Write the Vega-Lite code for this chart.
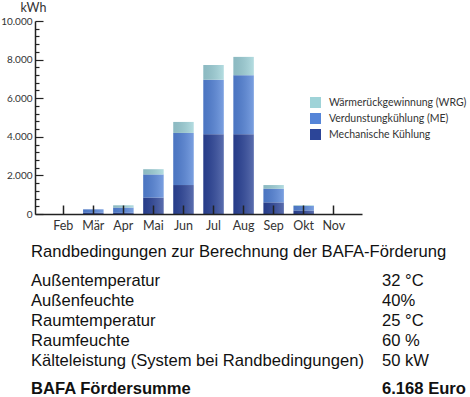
{
  "$schema": "https://vega.github.io/schema/vega-lite/v6.json",
  "padding": {"left": 0, "top": 1, "right": 0, "bottom": 0},
  "background": "white",
  "bounds": "flush",
  "spacing": 34,
  "config": {"view": {"stroke": null}, "font": "Lato"},
  "datasets": {
    "energie": [
      {"Monat": "Feb", "Art": "Mechanische Kühlung", "Ebene": 1, "kWh": 0},
      {"Monat": "Feb", "Art": "Verdunstungkühlung (ME)", "Ebene": 2, "kWh": 0},
      {"Monat": "Feb", "Art": "Wärmerückgewinnung (WRG)", "Ebene": 3, "kWh": 0},
      {"Monat": "Mär", "Art": "Mechanische Kühlung", "Ebene": 1, "kWh": 60},
      {"Monat": "Mär", "Art": "Verdunstungkühlung (ME)", "Ebene": 2, "kWh": 180},
      {"Monat": "Mär", "Art": "Wärmerückgewinnung (WRG)", "Ebene": 3, "kWh": 0},
      {"Monat": "Apr", "Art": "Mechanische Kühlung", "Ebene": 1, "kWh": 60},
      {"Monat": "Apr", "Art": "Verdunstungkühlung (ME)", "Ebene": 2, "kWh": 270},
      {"Monat": "Apr", "Art": "Wärmerückgewinnung (WRG)", "Ebene": 3, "kWh": 120},
      {"Monat": "Mai", "Art": "Mechanische Kühlung", "Ebene": 1, "kWh": 850},
      {"Monat": "Mai", "Art": "Verdunstungkühlung (ME)", "Ebene": 2, "kWh": 1200},
      {"Monat": "Mai", "Art": "Wärmerückgewinnung (WRG)", "Ebene": 3, "kWh": 270},
      {"Monat": "Jun", "Art": "Mechanische Kühlung", "Ebene": 1, "kWh": 1500},
      {"Monat": "Jun", "Art": "Verdunstungkühlung (ME)", "Ebene": 2, "kWh": 2700},
      {"Monat": "Jun", "Art": "Wärmerückgewinnung (WRG)", "Ebene": 3, "kWh": 570},
      {"Monat": "Jul", "Art": "Mechanische Kühlung", "Ebene": 1, "kWh": 4130},
      {"Monat": "Jul", "Art": "Verdunstungkühlung (ME)", "Ebene": 2, "kWh": 2830},
      {"Monat": "Jul", "Art": "Wärmerückgewinnung (WRG)", "Ebene": 3, "kWh": 760},
      {"Monat": "Aug", "Art": "Mechanische Kühlung", "Ebene": 1, "kWh": 4130},
      {"Monat": "Aug", "Art": "Verdunstungkühlung (ME)", "Ebene": 2, "kWh": 3060},
      {"Monat": "Aug", "Art": "Wärmerückgewinnung (WRG)", "Ebene": 3, "kWh": 950},
      {"Monat": "Sep", "Art": "Mechanische Kühlung", "Ebene": 1, "kWh": 600},
      {"Monat": "Sep", "Art": "Verdunstungkühlung (ME)", "Ebene": 2, "kWh": 710},
      {"Monat": "Sep", "Art": "Wärmerückgewinnung (WRG)", "Ebene": 3, "kWh": 190},
      {"Monat": "Okt", "Art": "Mechanische Kühlung", "Ebene": 1, "kWh": 180},
      {"Monat": "Okt", "Art": "Verdunstungkühlung (ME)", "Ebene": 2, "kWh": 240},
      {"Monat": "Okt", "Art": "Wärmerückgewinnung (WRG)", "Ebene": 3, "kWh": 30},
      {"Monat": "Nov", "Art": "Mechanische Kühlung", "Ebene": 1, "kWh": 0},
      {"Monat": "Nov", "Art": "Verdunstungkühlung (ME)", "Ebene": 2, "kWh": 0},
      {"Monat": "Nov", "Art": "Wärmerückgewinnung (WRG)", "Ebene": 3, "kWh": 0}
    ],
    "randbedingungen": [
      {"Parameter": "Außentemperatur", "Wert": "32 °C"},
      {"Parameter": "Außenfeuchte", "Wert": "40%"},
      {"Parameter": "Raumtemperatur", "Wert": "25 °C"},
      {"Parameter": "Raumfeuchte", "Wert": "60 %"},
      {"Parameter": "Kälteleistung (System bei Randbedingungen)", "Wert": "50 kW"}
    ]
  },
  "vconcat": [
    {
      "width": 327,
      "height": 193,
      "data": {"name": "energie"},
      "encoding": {
        "x": {
          "field": "Monat", "type": "nominal",
          "sort": ["Feb", "Mär", "Apr", "Mai", "Jun", "Jul", "Aug", "Sep", "Okt", "Nov"],
          "scale": {"paddingInner": 0.32, "paddingOuter": 0.6},
          "axis": {
            "title": null, "labelAngle": 0, "labelFontSize": 12.5, "labelColor": "#333",
            "tickSize": -9, "tickColor": "#222", "tickWidth": 1.5,
            "domainColor": "#222", "domainWidth": 1.5, "labelPadding": 14, "zindex": 1
          }
        },
        "y": {
          "field": "kWh", "type": "quantitative", "stack": "zero",
          "scale": {"domain": [0, 10000], "nice": false},
          "axis": {
            "title": "kWh", "titleAngle": 0, "titleX": -15, "titleY": -10,
            "titleAlign": "left", "titleBaseline": "alphabetic", "titleFontWeight": "normal",
            "titleFontSize": 12.5, "titleColor": "#333",
            "values": [0, 400, 800, 1200, 1600, 2000, 2400, 2800, 3200, 3600, 4000, 4400, 4800, 5200, 5600, 6000, 6400, 6800, 7200, 7600, 8000, 8400, 8800, 9200, 9600, 10000],
            "labelExpr": "datum.value % 2000 === 0 ? replace(format(datum.value, ','), ',', '.') : ''",
            "tickSize": {"condition": {"test": "datum.value % 2000 === 0", "value": -8}, "value": -4},
            "labelPadding": 11, "labelFontSize": 10, "labelColor": "#333", "grid": false,
            "domainColor": "#222", "domainWidth": 1.5, "tickColor": "#222", "tickWidth": 1.2,
            "labelOverlap": false
          }
        },
        "order": {"field": "Ebene", "type": "quantitative"}
      },
      "layer": [
        {
          "mark": {"type": "bar"},
          "encoding": {
            "color": {
              "field": "Art", "type": "nominal",
              "scale": {
                "domain": ["Wärmerückgewinnung (WRG)", "Verdunstungkühlung (ME)", "Mechanische Kühlung"],
                "range": ["#9fd3d8", "#5585d8", "#2c4598"]
              },
              "legend": {
                "orient": "none", "legendX": 275, "legendY": 76, "title": null,
                "symbolType": "square", "symbolSize": 121, "symbolStrokeWidth": 0,
                "labelFontSize": 10.5, "labelColor": "#333", "rowPadding": 5,
                "labelOffset": 8, "labelLimit": 220
              }
            }
          }
        },
        {
          "mark": {
            "type": "bar",
            "color": {
              "gradient": "linear", "x1": 0, "x2": 1, "y1": 0, "y2": 0,
              "stops": [
                {"offset": 0, "color": "rgba(0,0,30,0.12)"},
                {"offset": 1, "color": "rgba(255,255,255,0.22)"}
              ]
            }
          },
          "encoding": {"detail": {"field": "Art", "type": "nominal"}}
        }
      ]
    },
    {
      "bounds": "flush",
      "spacing": 20,
      "vconcat": [
        {
          "width": 351,
          "height": 18,
          "data": {"values": [{"Überschrift": "Randbedingungen zur Berechnung der BAFA-Förderung"}]},
          "mark": {"type": "text", "align": "left", "baseline": "alphabetic", "font": "Liberation Sans", "fontSize": 16.6, "color": "#111", "dx": -4},
          "encoding": {
            "text": {"field": "Überschrift"},
            "x": {"datum": "Bezeichnung", "type": "nominal", "scale": {"type": "point", "domain": ["Bezeichnung", "Wert"], "padding": 0}, "axis": null}
          }
        },
        {
          "width": 351,
          "height": 80,
          "data": {"name": "randbedingungen"},
          "encoding": {
            "y": {"field": "Parameter", "type": "nominal", "sort": null, "scale": {"type": "point", "padding": 0}, "axis": null}
          },
          "layer": [
            {
              "mark": {"type": "text", "align": "left", "baseline": "alphabetic", "font": "Liberation Sans", "fontSize": 16.6, "color": "#111", "dx": -4},
              "encoding": {
                "text": {"field": "Parameter"},
                "x": {"datum": "Bezeichnung", "type": "nominal", "scale": {"type": "point", "domain": ["Bezeichnung", "Wert"], "padding": 0}, "axis": null}
              }
            },
            {
              "mark": {"type": "text", "align": "left", "baseline": "alphabetic", "font": "Liberation Sans", "fontSize": 16.6, "color": "#111", "dx": -4},
              "encoding": {
                "text": {"field": "Wert"},
                "x": {"datum": "Wert", "type": "nominal", "scale": {"type": "point", "domain": ["Bezeichnung", "Wert"], "padding": 0}, "axis": null}
              }
            }
          ]
        },
        {
          "width": 351,
          "height": 15,
          "data": {"values": [{"Parameter": "BAFA Fördersumme", "Wert": "6.168 Euro"}]},
          "layer": [
            {
              "mark": {"type": "text", "align": "left", "baseline": "alphabetic", "font": "Liberation Sans", "fontSize": 16.6, "fontWeight": "bold", "color": "#111", "dx": -4},
              "encoding": {
                "text": {"field": "Parameter"},
                "x": {"datum": "Bezeichnung", "type": "nominal", "scale": {"type": "point", "domain": ["Bezeichnung", "Wert"], "padding": 0}, "axis": null}
              }
            },
            {
              "mark": {"type": "text", "align": "left", "baseline": "alphabetic", "font": "Liberation Sans", "fontSize": 16.6, "fontWeight": "bold", "color": "#111", "dx": -4},
              "encoding": {
                "text": {"field": "Wert"},
                "x": {"datum": "Wert", "type": "nominal", "scale": {"type": "point", "domain": ["Bezeichnung", "Wert"], "padding": 0}, "axis": null}
              }
            }
          ]
        }
      ]
    }
  ]
}
